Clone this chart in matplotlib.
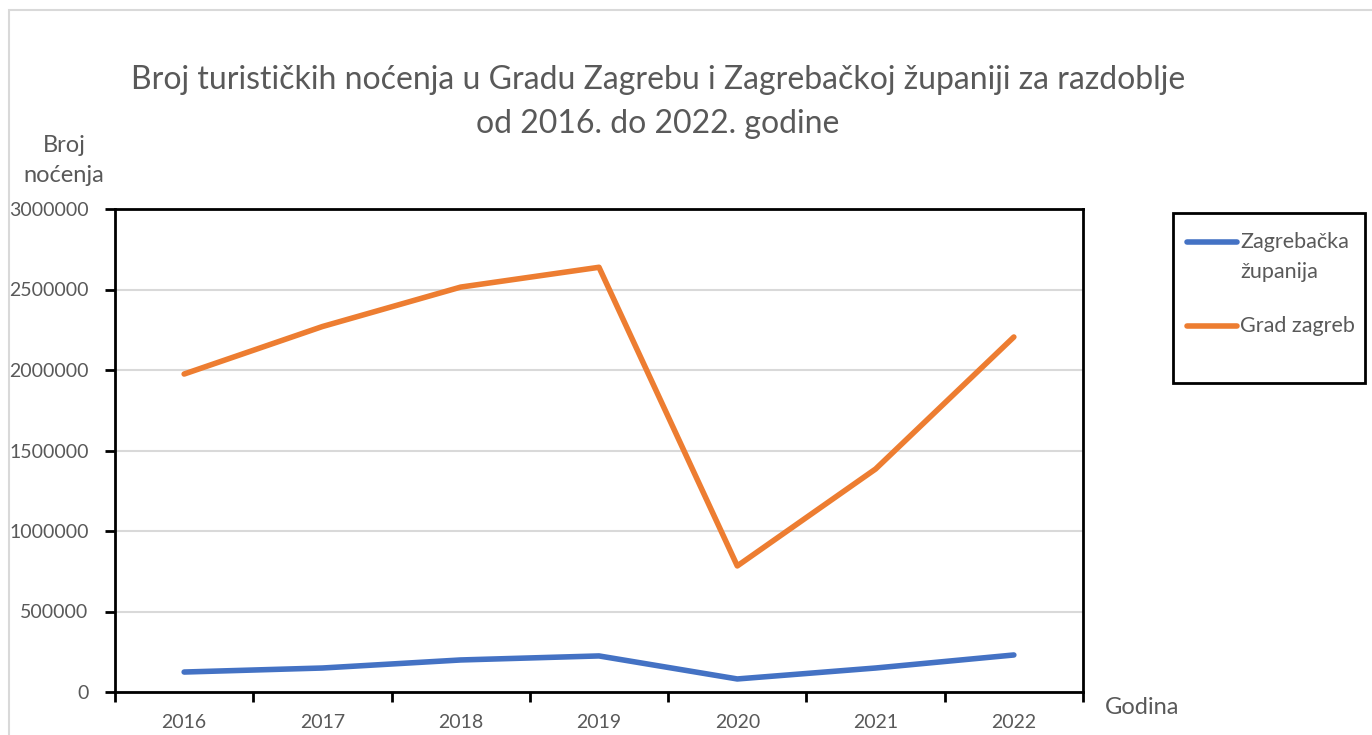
import numpy as np
import matplotlib.pyplot as plt
from matplotlib.patches import Rectangle
from matplotlib.lines import Line2D

years = ["2016", "2017", "2018", "2019", "2020", "2021", "2022"]
zagrebacka = [124000, 149000, 199000, 224000, 81000, 149000, 230000]
grad_zagreb = [1975000, 2270000, 2515000, 2638000, 783000, 1385000, 2205000]
y_ticks = [0, 500000, 1000000, 1500000, 2000000, 2500000, 3000000]

plt.rcParams['font.family'] = ['Lato', 'DejaVu Sans']
txt = '#595959'
blue = '#4472c4'
orange = '#ed7d31'

fig = plt.figure(figsize=(13.72, 7.35), dpi=100)
W, H = 1372, 735

def fx(px):
    return px / W

def fy(py):
    return 1 - py / H

# outer chart border (light gray)
fig.patches.append(Rectangle((fx(9), fy(760)), 1.0, fy(10) - fy(760),
                             transform=fig.transFigure, fill=False,
                             edgecolor='#d9d9d9', linewidth=1.5))

ax = fig.add_axes([fx(115), fy(692), fx(1083) - fx(115), fy(209) - fy(692)])
x = np.arange(len(years))
ax.plot(x, zagrebacka, color=blue, linewidth=4, solid_capstyle='round')
ax.plot(x, grad_zagreb, color=orange, linewidth=4, solid_capstyle='round')

ax.set_xlim(-0.5, len(years) - 0.5)
ax.set_ylim(0, 3000000)
ax.set_yticks(y_ticks)
ax.set_yticklabels([str(v) for v in y_ticks])
ax.yaxis.grid(True, color='#d9d9d9', linewidth=1.5)
ax.set_axisbelow(True)

# category ticks between labels, labels centred
ax.set_xticks(np.arange(-0.5, len(years), 1.0))
ax.set_xticklabels([])
ax.set_xticks(x, minor=True)
ax.set_xticklabels(years, minor=True)
ax.tick_params(axis='x', which='major', direction='out', length=7, width=2, color='black')
ax.tick_params(axis='x', which='minor', length=0, pad=16, labelsize=14, labelcolor=txt)
ax.tick_params(axis='y', direction='out', length=7, width=2, color='black',
               pad=12, labelsize=14, labelcolor=txt)
for s in ax.spines.values():
    s.set_color('black')
    s.set_linewidth(2)

fig.text(fx(658), fy(80), "Broj turističkih noćenja u Gradu Zagrebu i Zagrebačkoj županiji za razdoblje",
         ha='center', va='center', fontsize=23, color=txt)
fig.text(fx(658), fy(124), "od 2016. do 2022. godine",
         ha='center', va='center', fontsize=23, color=txt)
fig.text(fx(64), fy(146), "Broj", ha='center', va='center', fontsize=17, color=txt)
fig.text(fx(64), fy(176), "noćenja", ha='center', va='center', fontsize=17, color=txt)
fig.text(fx(1105), fy(708), "Godina", ha='left', va='center', fontsize=17, color=txt)

# legend
fig.patches.append(Rectangle((fx(1173), fy(383)), fx(1365) - fx(1173), fy(213) - fy(383),
                             transform=fig.transFigure, fill=False,
                             edgecolor='black', linewidth=2))
fig.add_artist(Line2D([fx(1187), fx(1237)], [fy(242), fy(242)], transform=fig.transFigure,
                      color=blue, linewidth=4, solid_capstyle='round'))
fig.add_artist(Line2D([fx(1187), fx(1237)], [fy(326), fy(326)], transform=fig.transFigure,
                      color=orange, linewidth=4, solid_capstyle='round'))
fig.text(fx(1240), fy(242), "Zagrebačka", ha='left', va='center', fontsize=15.5, color=txt)
fig.text(fx(1240), fy(272), "županija", ha='left', va='center', fontsize=15.5, color=txt)
fig.text(fx(1240), fy(326), "Grad zagreb", ha='left', va='center', fontsize=15.5, color=txt)

fig.savefig("out.png", dpi=100, facecolor='white')
